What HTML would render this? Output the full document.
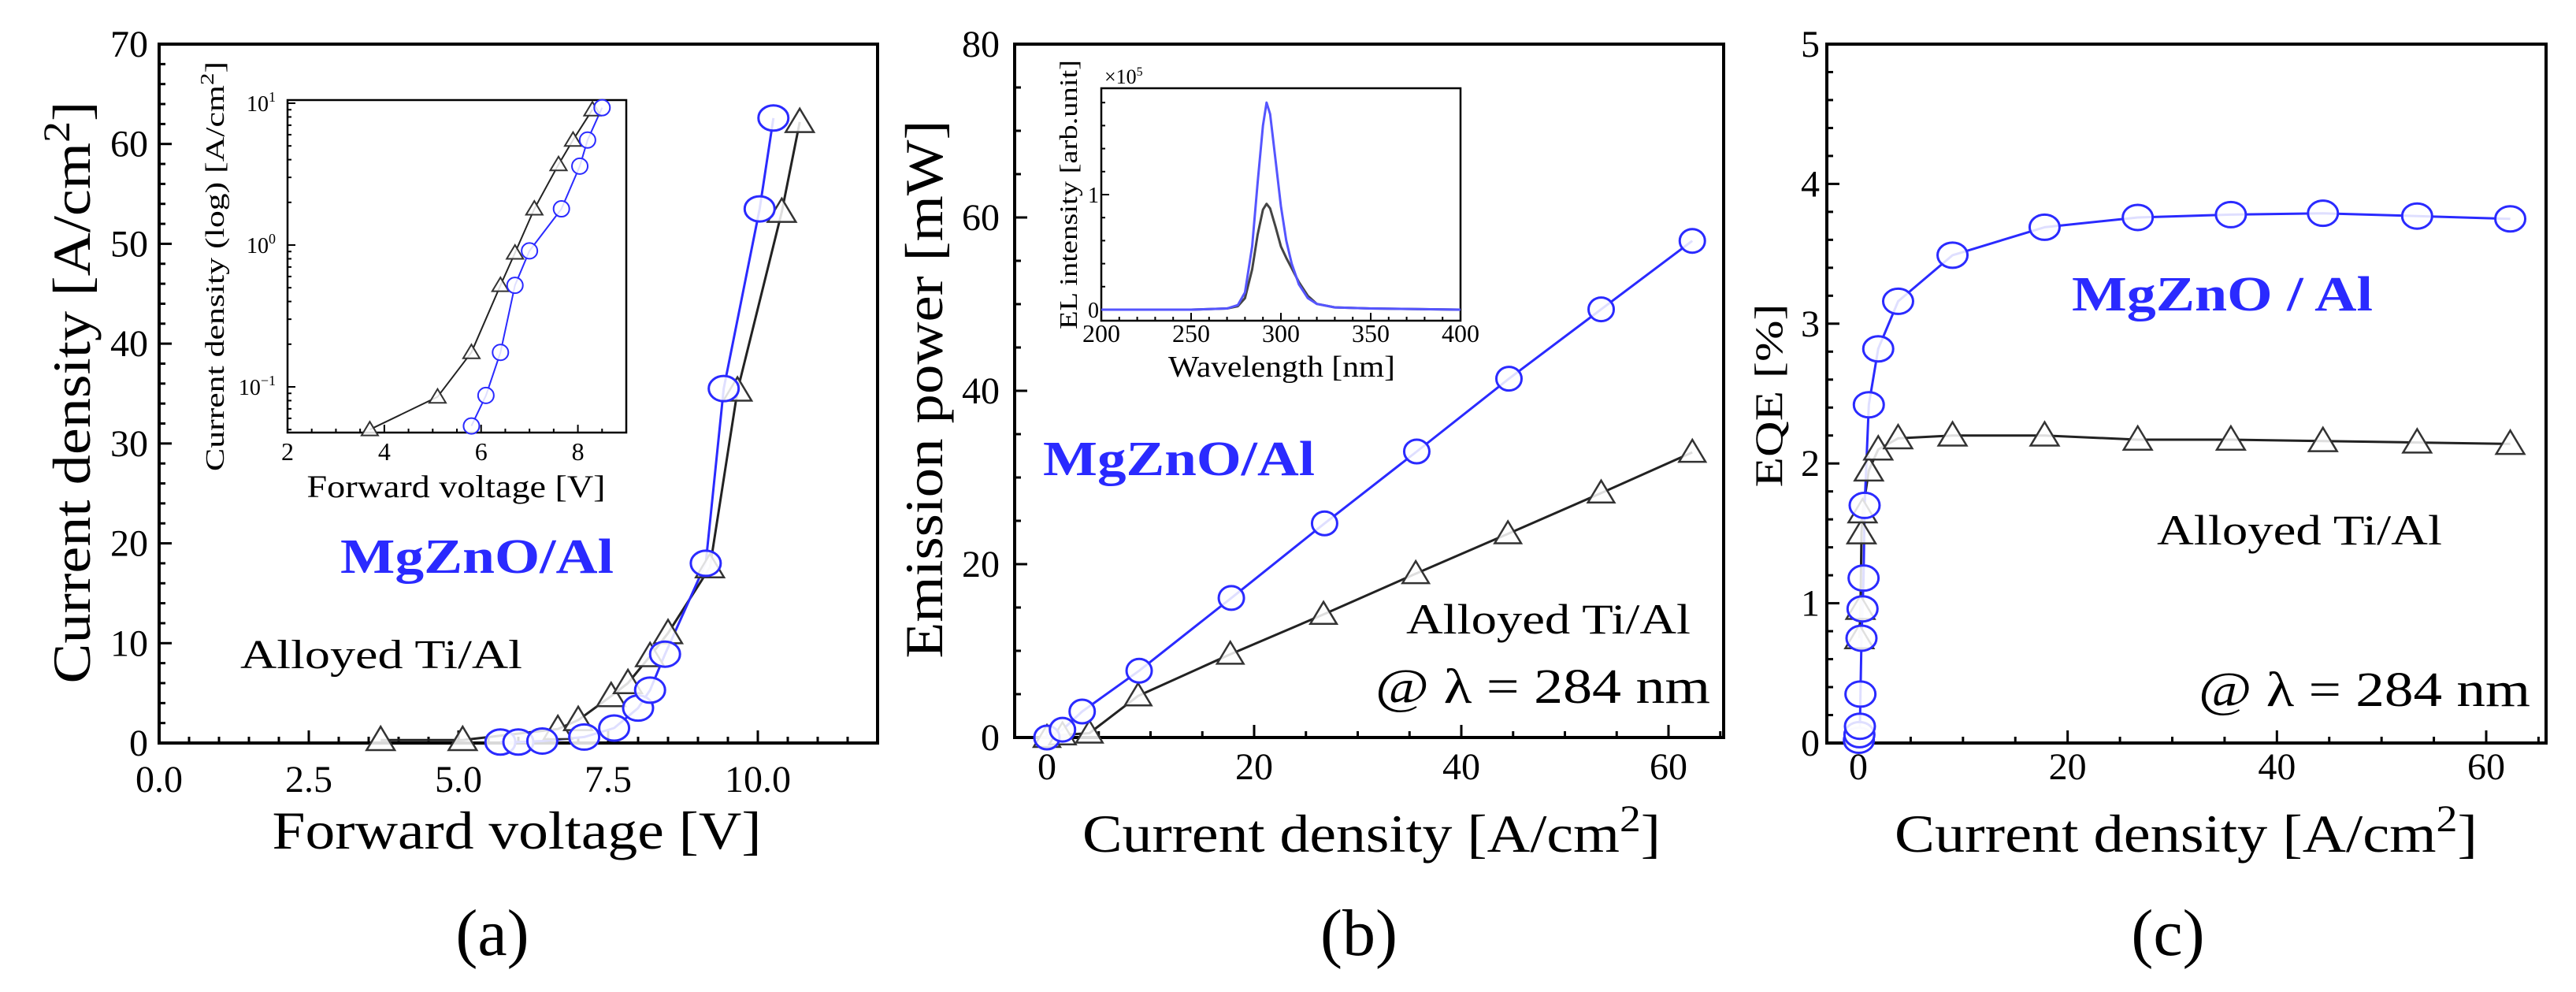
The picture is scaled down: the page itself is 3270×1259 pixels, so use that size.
<!DOCTYPE html>
<html><head><meta charset="utf-8">
<style>
html,body{margin:0;padding:0;background:#fff;}
svg{display:block;font-family:"Liberation Serif",serif;}
</style></head>
<body>
<svg id="fig" width="3270" height="1259" viewBox="0 0 3270 1259" xmlns="http://www.w3.org/2000/svg"></svg>
<script>
// ---------- Panel (a) data ----------
const aTiV = [3.7, 5.07, 6.66, 7.0, 7.55, 7.83, 8.2, 8.5, 9.2, 9.66, 10.4, 10.7];
const aTiJ = [0.3, 0.3, 1.4, 2.3, 4.7, 6.0, 8.7, 11, 17.6, 35.3, 53.2, 62.2];
const aMgV = [5.7, 6.0, 6.4, 7.1, 7.6, 8.0, 8.2, 8.45, 9.13, 9.43, 10.03, 10.26];
const aMgJ = [0.1, 0.1, 0.2, 0.6, 1.5, 3.5, 5.3, 8.9, 18, 35.5, 53.5, 62.6];
const aXTicks = [0, 2.5, 5, 7.5, 10];
const aXTickLabels = ["0.0", "2.5", "5.0", "7.5", "10.0"];
const aYTicks = [0, 10, 20, 30, 40, 50, 60, 70];
// inset (a) log
const aiTiV = [3.7, 5.1, 5.8, 6.4, 6.7, 7.1, 7.6, 7.9, 8.3];
const aiTiJ = [0.05, 0.085, 0.175, 0.52, 0.88, 1.8, 3.7, 5.5, 9.0];
const aiMgV = [5.8, 6.1, 6.4, 6.7, 7.0, 7.66, 8.04, 8.2, 8.5];
const aiMgJ = [0.053, 0.087, 0.175, 0.52, 0.91, 1.8, 3.6, 5.5, 9.3];
const aiXTicks = [2, 4, 6, 8];
const aiYTicks = [-1, 0, 1];
// ---------- Panel (b) data ----------
const bMgJ = [0, 1.5, 3.4, 8.9, 17.8, 26.8, 35.7, 44.6, 53.5, 62.3];
const bMgP = [0, 0.9, 3.0, 7.7, 16.1, 24.7, 33.0, 41.4, 49.4, 57.3];
const bTiJ = [0, 1.5, 4.1, 8.8, 17.7, 26.7, 35.6, 44.5, 53.5, 62.3];
const bTiP = [0, 0.3, 0.5, 4.8, 9.6, 14.2, 18.9, 23.5, 28.2, 32.9];
const bXTicks = [0, 20, 40, 60];
const bYTicks = [0, 20, 40, 60, 80];
// inset (b) spectrum
const specWl = [200, 250, 270, 276, 280, 284, 287, 290, 292, 294, 297, 300, 303, 306, 310, 315, 320, 330, 350, 400];
const specMg = [0.0, 0.0, 0.01, 0.04, 0.15, 0.55, 1.1, 1.6, 1.8, 1.7, 1.3, 0.9, 0.6, 0.4, 0.22, 0.1, 0.05, 0.02, 0.01, 0.0];
const specTi = [0.0, 0.0, 0.01, 0.03, 0.1, 0.35, 0.65, 0.87, 0.92, 0.88, 0.72, 0.55, 0.45, 0.36, 0.24, 0.12, 0.05, 0.02, 0.01, 0.0];
const biXTicks = [200, 250, 300, 350, 400];
const biYTicks = [0, 1];
// ---------- Panel (c) data ----------
const cMgJ = [0.05, 0.1, 0.15, 0.2, 0.3, 0.4, 0.5, 0.6, 1.0, 1.9, 3.8, 9, 17.8, 26.7, 35.6, 44.4, 53.4, 62.3];
const cMgE = [0.02, 0.06, 0.12, 0.35, 0.75, 0.96, 1.18, 1.7, 2.42, 2.82, 3.16, 3.49, 3.69, 3.76, 3.78, 3.79, 3.77, 3.75];
const cTiJ = [0.1, 0.2, 0.3, 0.4, 1.0, 1.9, 3.8, 9, 17.8, 26.7, 35.6, 44.4, 53.4, 62.3];
const cTiE = [0.75, 0.96, 1.5, 1.65, 1.95, 2.1, 2.18, 2.2, 2.2, 2.17, 2.17, 2.16, 2.15, 2.14];
const cXTicks = [0, 20, 40, 60];
const cYTicks = [0, 1, 2, 3, 4, 5];

const NS = "http://www.w3.org/2000/svg";
const svg = document.getElementById("fig");
function el(tag, attrs, parent, txt) {
  const e = document.createElementNS(NS, tag);
  for (const k in attrs) e.setAttribute(k, attrs[k]);
  if (txt !== undefined) e.textContent = txt;
  (parent || svg).appendChild(e);
  return e;
}
function lin(d0, d1, r0, r1) { return v => r0 + (v - d0) * (r1 - r0) / (d1 - d0); }
const BLUE = "#2a2aff";

function frame(g, x0, y0, x1, y1, sw) {
  const r = el("rect", {x: x0, y: y0, width: x1 - x0, height: y1 - y0, fill: "none", stroke: "#000", "stroke-width": sw}, g);
  
  
}
function tickX(g, x, yb, len, sw) { el("line", {x1: x, x2: x, y1: yb, y2: yb - len, stroke: "#000", "stroke-width": sw}, g); }
function tickY(g, y, xl, len, sw) { el("line", {x1: xl, x2: xl + len, y1: y, y2: y, stroke: "#000", "stroke-width": sw}, g); }
function polyline(g, xs, ys, sx, sy, color, sw, name) {
  const pts = xs.map((v, i) => sx(v).toFixed(1) + "," + sy(ys[i]).toFixed(1)).join(" ");
  const p = el("polyline", {points: pts, fill: "none", stroke: color, "stroke-width": sw, "stroke-linejoin": "round"}, g);
  
  
}
function circles(g, xs, ys, sx, sy, rx, ry, sw, name) {
  xs.forEach((v, i) => {
    const c = el("ellipse", {cx: sx(v), cy: sy(ys[i]), rx: rx, ry: ry, fill: "#fff", "fill-opacity": 0.85, stroke: BLUE, "stroke-width": sw}, g);
    
    
  });
}
function tris(g, xs, ys, sx, sy, s, sw, name) {
  xs.forEach((v, i) => {
    const cx = sx(v), cy = sy(ys[i]);
    const p = el("polygon", {points: `${cx},${cy - s} ${cx - s * 1.05},${cy + s * 0.75} ${cx + s * 1.05},${cy + s * 0.75}`, fill: "#fff", "fill-opacity": 0.85, stroke: "#333", "stroke-width": sw}, g);
    
    
  });
}
function text(g, x, y, s, attrs, name) {
  const a = Object.assign({x: x, y: y}, attrs);
  const t = el("text", a, g, s);
  
  
  return t;
}

// ================= Panel (a) =================
{
  const g = el("g", {});
  
  
  const X0 = 202, X1 = 1114, Y0 = 56, Y1 = 943;
  const sx = lin(0, 12, X0, X1), sy = lin(0, 70, Y1, Y0);
  frame(g, X0, Y0, X1, Y1, 4);
  for (let v = 0.5; v < 12; v += 0.5) tickX(g, sx(v), Y1, (Math.abs(v / 2.5 - Math.round(v / 2.5)) < 1e-6) ? 16 : 8, 3);
  for (let v = 2; v < 70; v += 2) tickY(g, sy(v), X0, (v % 10 === 0) ? 16 : 8, 3);
  aXTicks.forEach((v, i) => text(g, sx(v), 1005, aXTickLabels[i], {"font-size": 48, "text-anchor": "middle"}, 'x-tick-label'));
  aYTicks.forEach(v => text(g, 188, sy(v) + 16, String(v), {"font-size": 48, "text-anchor": "end"}, 'y-tick-label'));
  polyline(g, aTiV, aTiJ, sx, sy, "#222", 3, 'alloyed-ti-al-line');
  polyline(g, aMgV, aMgJ, sx, sy, BLUE, 3, 'mgzno-al-line');
  tris(g, aTiV, aTiJ, sx, sy, 17, 2.5, 'alloyed-ti-al-marker');
  circles(g, aMgV, aMgJ, sx, sy, 19, 16, 3, 'mgzno-al-marker');
  text(g, 656, 1077, "Forward voltage [V]", {"font-size": 68, "text-anchor": "middle", textLength: 621, lengthAdjust: "spacingAndGlyphs"}, 'x-axis-title');
  const yt = text(g, 0, 0, "", {"font-size": 68, "text-anchor": "middle", transform: "translate(114,498) rotate(-90)", textLength: 739, lengthAdjust: "spacingAndGlyphs"}, 'y-axis-title');
  yt.innerHTML = 'Current density [A/cm<tspan dy="-26" font-size="48">2</tspan><tspan dy="26">]</tspan>';
  text(g, 432, 727, "MgZnO/Al", {"font-size": 62, "font-weight": "bold", fill: BLUE, textLength: 347, lengthAdjust: "spacingAndGlyphs"}, 'mgzno-al-label');
  text(g, 305, 848, "Alloyed  Ti/Al", {"font-size": 52, textLength: 358, lengthAdjust: "spacingAndGlyphs"}, 'alloyed-ti-al-label');
  text(g, 625, 1212, "(a)", {"font-size": 84, "text-anchor": "middle"}, 'panel-label-a');

  // inset
  const ig = el("g", {}, g);
  
  
  const IX0 = 365, IX1 = 795, IY0 = 127, IY1 = 549;
  const isx = lin(2, 9, IX0, IX1);
  const ly = lin(0, 1, 311, 131);
  const isy = v => ly(Math.log10(v));
  frame(ig, IX0, IY0, IX1, IY1, 2.5);
  for (let v = 2.5; v < 9; v += 0.5) tickX(ig, isx(v), IY1, (v % 2 === 0) ? 10 : 5, 2);
  for (let d = -2; d <= 1; d++) for (let m = 1; m <= 9; m++) {
    const yy = ly(d + Math.log10(m));
    if (yy > IY0 && yy < IY1) tickY(ig, yy, IX0, m === 1 ? 10 : 5, 2);
  }
  aiXTicks.forEach(v => text(ig, isx(v), 584, String(v), {"font-size": 32, "text-anchor": "middle"}, 'inset-x-tick-label'));
  aiYTicks.forEach(v => {
    const t = text(ig, 350, ly(v) + 10, "", {"font-size": 28, "text-anchor": "end"}, 'inset-y-tick-label');
    t.innerHTML = '10<tspan dy="-12" font-size="18">' + (v < 0 ? '\u2212' + (-v) : v) + '</tspan>';
  });
  polyline(ig, aiTiV, aiTiJ, isx, isy, "#222", 2, 'inset-alloyed-line');
  polyline(ig, aiMgV, aiMgJ, isx, isy, BLUE, 2, 'inset-mgzno-line');
  tris(ig, aiTiV, aiTiJ, isx, isy, 10, 2, 'inset-alloyed-marker');
  circles(ig, aiMgV, aiMgJ, isx, isy, 10, 10, 2, 'inset-mgzno-marker');
  text(ig, 579, 631, "Forward voltage [V]", {"font-size": 40, "text-anchor": "middle", textLength: 379, lengthAdjust: "spacingAndGlyphs"}, 'inset-x-axis-title');
  const iyt = text(ig, 0, 0, "", {"font-size": 34, "text-anchor": "middle", transform: "translate(284,338) rotate(-90)", textLength: 520, lengthAdjust: "spacingAndGlyphs"}, 'inset-y-axis-title');
  iyt.innerHTML = 'Current density (log) [A/cm<tspan dy="-13" font-size="24">2</tspan><tspan dy="13">]</tspan>';
}

// ================= Panel (b) =================
{
  const g = el("g", {});
  
  
  const X0 = 1288, X1 = 2188, Y0 = 56, Y1 = 936;
  const sx = lin(0, 60, 1329, 2118), sy = lin(0, 80, Y1, Y0);
  frame(g, X0, Y0, X1, Y1, 4);
  for (let v = 0; v <= 65; v += 5) tickX(g, sx(v), Y1, v % 20 === 0 ? 16 : 8, 3);
  for (let v = 5; v < 80; v += 5) tickY(g, sy(v), X0, v % 20 === 0 ? 16 : 8, 3);
  bXTicks.forEach(v => text(g, sx(v), 989, String(v), {"font-size": 48, "text-anchor": "middle"}, 'x-tick-label'));
  bYTicks.forEach(v => text(g, 1269, sy(v) + 16, String(v), {"font-size": 48, "text-anchor": "end"}, 'y-tick-label'));
  polyline(g, bTiJ, bTiP, sx, sy, "#222", 3, 'alloyed-ti-al-line');
  polyline(g, bMgJ, bMgP, sx, sy, BLUE, 3, 'mgzno-al-line');
  tris(g, bTiJ, bTiP, sx, sy, 16, 2.5, 'alloyed-ti-al-marker');
  circles(g, bMgJ, bMgP, sx, sy, 16, 15, 3, 'mgzno-al-marker');
  const xt = text(g, 1741, 1081, "", {"font-size": 68, "text-anchor": "middle", textLength: 734, lengthAdjust: "spacingAndGlyphs"}, 'x-axis-title');
  xt.innerHTML = 'Current density [A/cm<tspan dy="-26" font-size="48">2</tspan><tspan dy="26">]</tspan>';
  text(g, 0, 0, "Emission power [mW]", {"font-size": 68, "text-anchor": "middle", transform: "translate(1196,494) rotate(-90)", textLength: 683, lengthAdjust: "spacingAndGlyphs"}, 'y-axis-title');
  text(g, 1324, 603, "MgZnO/Al", {"font-size": 62, "font-weight": "bold", fill: BLUE, textLength: 345, lengthAdjust: "spacingAndGlyphs"}, 'mgzno-al-label');
  text(g, 1785, 804, "Alloyed  Ti/Al", {"font-size": 54, textLength: 361, lengthAdjust: "spacingAndGlyphs"}, 'alloyed-ti-al-label');
  text(g, 1746, 892, "@ \u03bb = 284 nm", {"font-size": 62, textLength: 425, lengthAdjust: "spacingAndGlyphs"}, 'wavelength-label');
  text(g, 1725, 1212, "(b)", {"font-size": 84, "text-anchor": "middle"}, 'panel-label-b');

  const ig = el("g", {}, g);
  
  
  const IX0 = 1398, IX1 = 1854, IY0 = 112, IY1 = 407;
  const isx = lin(200, 400, IX0, IX1), isy = lin(0, 1, 393, 247);
  frame(ig, IX0, IY0, IX1, IY1, 2.5);
  for (let v = 210; v < 400; v += 10) tickX(ig, isx(v), IY1, v % 50 === 0 ? 10 : 5, 2);
  for (let v = 0.2; v < 1.9; v += 0.2) tickY(ig, isy(v), IX0, Math.abs(v - 1) < 1e-6 ? 10 : 5, 2);
  biXTicks.forEach(v => text(ig, isx(v), 434, String(v), {"font-size": 32, "text-anchor": "middle"}, 'inset-x-tick-label'));
  biYTicks.forEach(v => text(ig, 1395, isy(v) + 10, String(v), {"font-size": 28, "text-anchor": "end"}, 'inset-y-tick-label'));
  polyline(ig, specWl, specTi, isx, isy, "#444", 3, 'spectrum-alloyed-ti-al');
  polyline(ig, specWl, specMg, isx, isy, "#5555ff", 3, 'spectrum-mgzno-al');
  text(ig, 1627, 478, "Wavelength [nm]", {"font-size": 38, "text-anchor": "middle", textLength: 288, lengthAdjust: "spacingAndGlyphs"}, 'inset-x-axis-title');
  text(ig, 0, 0, "EL intensity [arb.unit]", {"font-size": 32, "text-anchor": "middle", transform: "translate(1367,247) rotate(-90)", textLength: 342, lengthAdjust: "spacingAndGlyphs"}, 'inset-y-axis-title');
  const mult = text(ig, 1402, 106, "", {"font-size": 26}, 'inset-multiplier');
  mult.innerHTML = '\u00d710<tspan dy="-10" font-size="16">5</tspan>';
}

// ================= Panel (c) =================
{
  const g = el("g", {});
  
  
  const X0 = 2319, X1 = 3232, Y0 = 56, Y1 = 943;
  const sx = lin(0, 60, 2359, 3156), sy = lin(0, 5, Y1, Y0);
  frame(g, X0, Y0, X1, Y1, 4);
  for (let v = 0; v <= 65; v += 5) tickX(g, sx(v), Y1, v % 20 === 0 ? 16 : 8, 3);
  for (let v = 0.2; v < 5; v += 0.2) tickY(g, sy(v), X0, Math.abs(v - Math.round(v)) < 1e-6 ? 16 : 8, 3);
  cXTicks.forEach(v => text(g, sx(v), 989, String(v), {"font-size": 48, "text-anchor": "middle"}, 'x-tick-label'));
  cYTicks.forEach(v => text(g, 2310, sy(v) + 16, String(v), {"font-size": 48, "text-anchor": "end"}, 'y-tick-label'));
  polyline(g, cTiJ, cTiE, sx, sy, "#222", 3, 'alloyed-ti-al-line');
  polyline(g, cMgJ, cMgE, sx, sy, BLUE, 3, 'mgzno-al-line');
  tris(g, cTiJ, cTiE, sx, sy, 17, 2.5, 'alloyed-ti-al-marker');
  circles(g, cMgJ, cMgE, sx, sy, 19, 16, 3, 'mgzno-al-marker');
  const xt = text(g, 2775, 1081, "", {"font-size": 68, "text-anchor": "middle", textLength: 740, lengthAdjust: "spacingAndGlyphs"}, 'x-axis-title');
  xt.innerHTML = 'Current density [A/cm<tspan dy="-26" font-size="48">2</tspan><tspan dy="26">]</tspan>';
  text(g, 0, 0, "EQE [%]", {"font-size": 50, "text-anchor": "middle", transform: "translate(2262,502) rotate(-90)", textLength: 233, lengthAdjust: "spacingAndGlyphs"}, 'y-axis-title');
  text(g, 2630, 394, "MgZnO / Al", {"font-size": 62, "font-weight": "bold", fill: BLUE, textLength: 382, lengthAdjust: "spacingAndGlyphs"}, 'mgzno-al-label');
  text(g, 2738, 691, "Alloyed  Ti/Al", {"font-size": 54, textLength: 362, lengthAdjust: "spacingAndGlyphs"}, 'alloyed-ti-al-label');
  text(g, 2791, 896, "@ \u03bb = 284 nm", {"font-size": 62, textLength: 421, lengthAdjust: "spacingAndGlyphs"}, 'wavelength-label');
  text(g, 2752, 1212, "(c)", {"font-size": 84, "text-anchor": "middle"}, 'panel-label-c');
}
</script>
</body></html>
